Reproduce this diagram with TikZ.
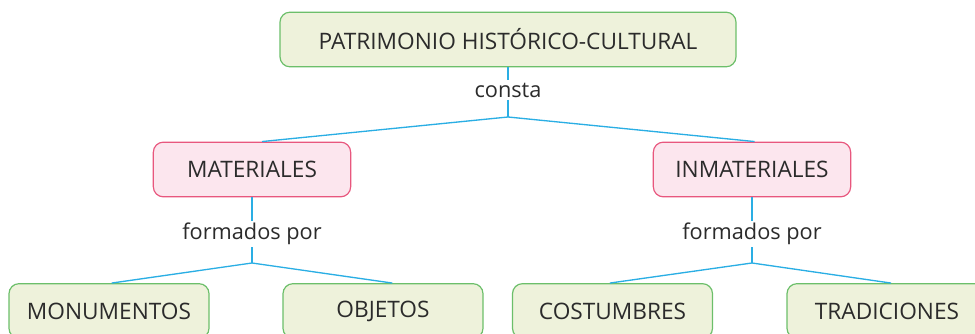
\documentclass[tikz,border=0pt]{standalone}
\usepackage{fontspec}
\setmainfont{Open Sans}
\definecolor{gfill}{HTML}{EEF2DB}
\definecolor{gline}{HTML}{6CBF6A}
\definecolor{pfill}{HTML}{FCE6EE}
\definecolor{pline}{HTML}{E8577E}
\definecolor{cline}{HTML}{2AAEE4}
\definecolor{txt}{HTML}{2B2B2B}
\begin{document}
\begin{tikzpicture}[x=0.75pt,y=-0.75pt,
  box/.style={draw, line width=0.9pt, rounded corners=7.5pt, minimum width=150pt, minimum height=41pt, inner sep=0pt, text=txt, font=\fontsize{17}{20}\selectfont},
  gbox/.style={box, draw=gline, fill=gfill},
  pbox/.style={box, draw=pline, fill=pfill},
  lbl/.style={text=txt, font=\fontsize{16.3}{19}\selectfont, inner sep=1.5pt},
  conn/.style={draw=cline, line width=1pt}]
\useasboundingbox (0,0) rectangle (975,334);
\begin{scope}
\clip (0,0) rectangle (975,334);
\node[gbox, minimum width=342pt] (top) at (508,39.5) {PATRIMONIO HISTÓRICO-CULTURAL};
\node[lbl] (consta) at (508,90) {consta};
\coordinate (j0) at (508,117);
\node[pbox, minimum width=148pt] (mat) at (252,169.5) {MATERIALES};
\node[pbox, minimum width=148pt] (inm) at (752,169.5) {INMATERIALES};
\node[lbl] (f1) at (252,234) {formados por};
\node[lbl] (f2) at (752,234) {formados por};
\coordinate (j1) at (252,263);
\coordinate (j2) at (752,263);
\node[gbox] (mon) at (109,311) {MONUMENTOS};
\node[gbox] (obj) at (383,311) {OBJETOS};
\node[gbox] (cos) at (612.5,311) {COSTUMBRES};
\node[gbox] (tra) at (887,311) {TRADICIONES};
\draw[conn] (top.south) -- (consta.north);
\draw[conn] (consta.south) -- (j0);
\draw[conn] (j0) -- ([xshift=7.5pt]mat.north);
\draw[conn] (j0) -- ([xshift=2pt]inm.north);
\draw[conn] (mat.south) -- (f1.north);
\draw[conn] (f1.south) -- (j1);
\draw[conn] (j1) -- ([xshift=2pt]mon.north);
\draw[conn] (j1) -- ([xshift=7pt]obj.north);
\draw[conn] (inm.south) -- (f2.north);
\draw[conn] (f2.south) -- (j2);
\draw[conn] (j2) -- ([xshift=-2pt]cos.north);
\draw[conn] (j2) -- ([xshift=3pt]tra.north);
\end{scope}
\end{tikzpicture}
\end{document}
